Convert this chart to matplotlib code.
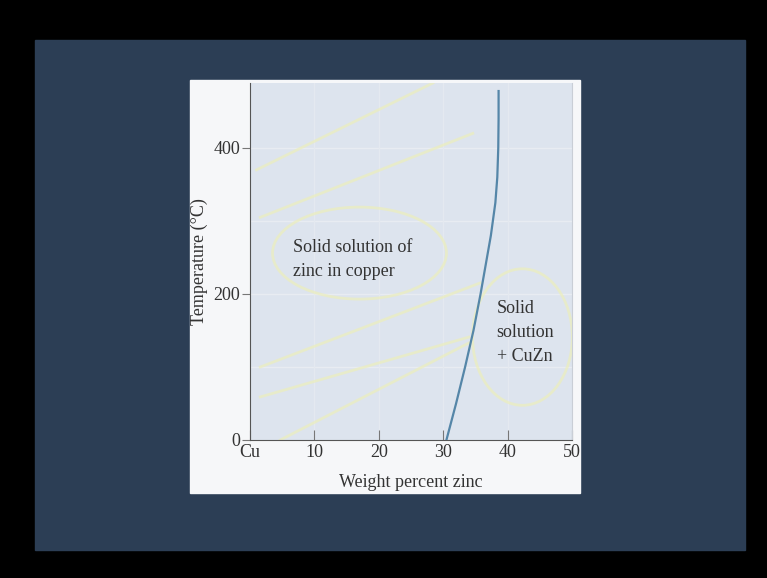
import matplotlib.pyplot as plt
from matplotlib.patches import Rectangle, Ellipse

# solvus boundary of the copper-rich solid solution
temp_c = [0, 50, 100, 150, 200, 245, 280, 325, 360, 400, 440, 478]
wt_zn = [30.5, 32.0, 33.4, 34.7, 35.8, 36.7, 37.4, 38.1, 38.4, 38.55, 38.6, 38.6]

x_ticks = [0, 10, 20, 30, 40, 50]
x_tick_labels = ["Cu", "10", "20", "30", "40", "50"]
y_ticks = [0, 200, 400]
grid_x = [10, 20, 30, 40]
grid_y = [100, 200, 300, 400]

region_left = "Solid solution of\nzinc in copper"
region_right = "Solid\nsolution\n+ CuZn"

# hand-drawn highlight marks on the slide (data coords)
marks_x = [[1, 28.4], [1.6, 34.6], [1.6, 35.7], [1.6, 34.0], [4.7, 34.0]]
marks_y = [[370, 489], [305, 420], [100, 215], [59, 141], [0, 133]]

W, H = 767, 578
plt.rcParams["font.family"] = ["Liberation Serif", "DejaVu Serif"]

fig = plt.figure(figsize=(W / 100, H / 100), dpi=100, facecolor="black")

# slide background and white figure panel
fig.patches.append(Rectangle((35 / W, 1 - 550 / H), 710 / W, 510 / H,
                             transform=fig.transFigure, color="#2c3e55", zorder=-5))
fig.patches.append(Rectangle((190 / W, 1 - 493 / H), 390 / W, 413 / H,
                             transform=fig.transFigure, color="#f6f7f9", zorder=-3))

ax = fig.add_axes([250 / W, 1 - 440 / H, 322 / W, 357 / H])
ax.set_facecolor("#dde4ee")
ax.set_xlim(0, 50)
ax.set_ylim(0, 489)

for t in grid_y:
    ax.axhline(t, color="#e8ecf2", lw=1, zorder=1)
for g in grid_x:
    ax.axvline(g, color="#e4e9f0", lw=1, zorder=1)

mark_kw = dict(color="#eceebc", lw=2, alpha=0.7, zorder=2)
for xs, ys in zip(marks_x, marks_y):
    ax.plot(xs, ys, **mark_kw)
ax.add_patch(Ellipse((17, 256), 27, 126, fill=False, ec="#eceebc", lw=2, alpha=0.7, zorder=2))
ax.add_patch(Ellipse((42.3, 141), 15.5, 187, fill=False, ec="#eceebc", lw=2, alpha=0.7, zorder=2))

ax.plot(wt_zn, temp_c, color="#5586a8", lw=1.6, zorder=3)

ax.text(6.7, 247, region_left, fontsize=13, va="center", ha="left",
        color="#333333", linespacing=1.55)
ax.text(38.3, 147, region_right, fontsize=13, va="center", ha="left",
        color="#333333", linespacing=1.55)

ax.spines["top"].set_visible(False)
ax.spines["right"].set_color("#c9ced6")
ax.spines["left"].set_color("#555555")
ax.spines["bottom"].set_color("#555555")

ax.set_xticks(x_ticks)
ax.set_xticklabels(x_tick_labels)
ax.set_yticks(y_ticks)
ax.tick_params(axis="x", direction="in", length=7, color="#777777",
               labelsize=13, labelcolor="#333333", pad=3)
ax.tick_params(axis="y", direction="out", length=6, color="#777777",
               labelsize=13, labelcolor="#333333", pad=1)

ax.set_xlabel("Weight percent zinc", fontsize=13, color="#333333", labelpad=9)
ax.set_ylabel("Temperature (°C)", fontsize=13, color="#333333", labelpad=4)

fig.savefig("out.png", dpi=100, facecolor="black")
